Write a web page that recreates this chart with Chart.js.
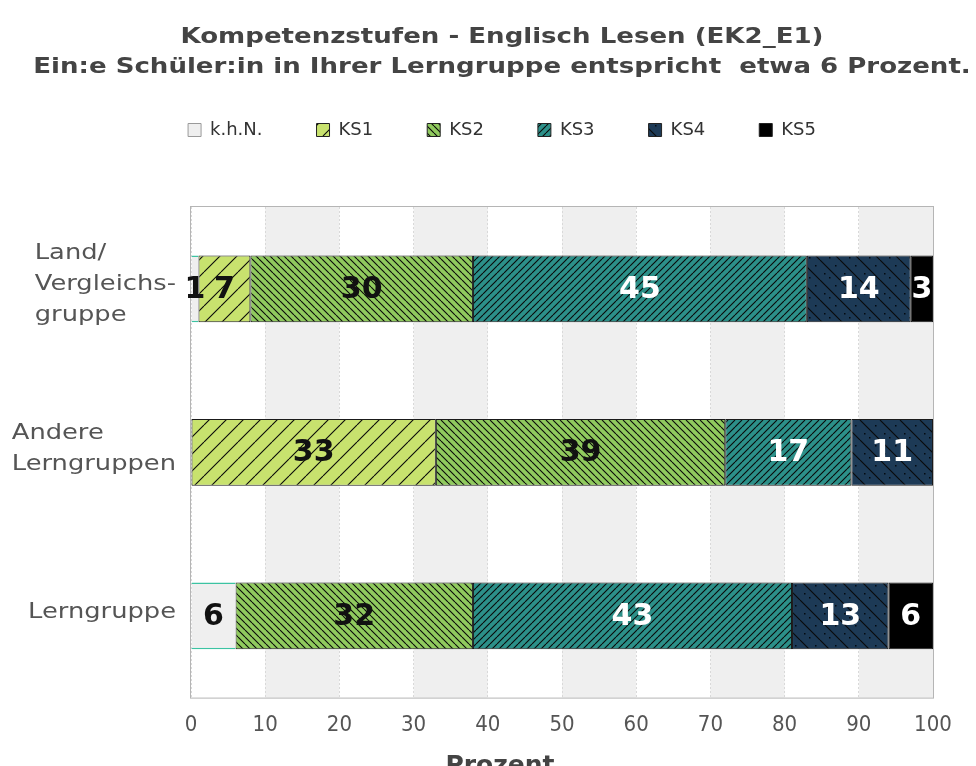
<!DOCTYPE html>
<html>
<head>
<meta charset="utf-8">
<script src="https://cdn.jsdelivr.net/npm/chart.js@4/dist/chart.umd.min.js"></script>
<style>
  html, body { margin: 0; background: #fff; }
  #wrap { width: 976px; height: 766px; }
</style>
</head>
<body>
<div id="wrap"><canvas id="chart"></canvas></div>
<script>
const titel = ['Kompetenzstufen - Englisch Lesen (EK2_E1)', 'Ein:e Schüler:in in Ihrer Lerngruppe entspricht  etwa 6 Prozent.'];
const gruppen = [['Land/', 'Vergleichs-', 'gruppe'], ['Andere', 'Lerngruppen'], ['Lerngruppe']];
const stufen = ['k.h.N.', 'KS1', 'KS2', 'KS3', 'KS4', 'KS5'];
const khn = [1, 0, 6];
const ks1 = [7, 33, 0];
const ks2 = [30, 39, 32];
const ks3 = [45, 17, 43];
const ks4 = [14, 11, 13];
const ks5 = [3, 0, 6];
const xTitel = 'Prozent';
const baender = [10, 30, 50, 70, 90];

// Schraffur als Canvas-Muster
function muster(bg, step, dir, dots) {
  const c = document.createElement('canvas');
  c.width = c.height = step;
  const x = c.getContext('2d');
  x.fillStyle = bg;
  x.fillRect(0, 0, step, step);
  x.strokeStyle = '#0a0a0a';
  x.lineWidth = 1.1;
  x.beginPath();
  for (const o of [-step, 0, step]) {
    if (dir === '/') { x.moveTo(o, step); x.lineTo(o + step, 0); }
    else { x.moveTo(o, 0); x.lineTo(o + step, step); }
  }
  x.stroke();
  if (dots) {
    x.fillStyle = '#050a10';
    dots.forEach(d => x.fillRect(d[0], d[1], 1.5, 1.5));
  }
  return x.createPattern(c, 'repeat');
}

const farben = [
  '#efefef',
  muster('#c8e26e', 17, '/'),
  muster('#90ca5e', 7, '\\'),
  muster('#2c9089', 7, '/'),
  muster('#1d3a56', 20, '\\', [[4, 13], [15, 5], [9, 17]]),
  '#000000'
];
const werte = [khn, ks1, ks2, ks3, ks4, ks5];
const textFarben = ['#111', '#111', '#111', '#fff', '#fff', '#fff'];

const datasets = stufen.map((s, i) => ({
  label: s,
  data: werte[i],
  backgroundColor: farben[i],
  borderColor: i === 0 ? '#3cc3a2' : '#1a1a1a',
  borderWidth: i === 0 ? { top: 1.5, bottom: 1.5, left: 0, right: 0 } : 1,
  borderSkipped: false,
  categoryPercentage: 0.8,
  barPercentage: 0.51
}));

const pad = { top: 67, left: 71, right: 43, bottom: 14 };

const hintergrund = {
  id: 'hintergrund',
  beforeDraw(chart) {
    const { ctx, chartArea: a } = chart;
    const xs = chart.scales.x;
    ctx.save();
    ctx.fillStyle = '#efefef';
    baender.forEach(v => {
      const l = xs.getPixelForValue(v), r = xs.getPixelForValue(v + 10);
      ctx.fillRect(l, a.top, r - l, a.bottom - a.top);
    });
    ctx.restore();
  },
  beforeDatasetsDraw(chart) {
    const { ctx, chartArea: a } = chart;
    ctx.save();
    ctx.strokeStyle = '#b5b5b5';
    ctx.lineWidth = 1;
    ctx.strokeRect(a.left - 0.5, a.top - 0.5, a.right - a.left + 1, a.bottom - a.top + 1);
    ctx.restore();
  }
};

const werteText = {
  id: 'werteText',
  afterDatasetsDraw(chart) {
    const { ctx } = chart;
    ctx.save();
    ctx.font = 'bold 30px "DejaVu Sans"';
    ctx.textAlign = 'center';
    ctx.textBaseline = 'middle';
    chart.data.datasets.forEach((ds, i) => {
      chart.getDatasetMeta(i).data.forEach((el, j) => {
        const v = ds.data[j];
        if (!v) return;
        const p = el.getProps(['x', 'y', 'base'], true);
        ctx.fillStyle = textFarben[i];
        ctx.fillText(String(v), (p.x + p.base) / 2, p.y + 1);
      });
    });
    ctx.restore();
  }
};

const texte = {
  id: 'texte',
  beforeInit(chart) {
    const fit = chart.legend.fit;
    chart.legend.fit = function () { fit.call(this); this.height += 58; };
  },
  afterDraw(chart) {
    const { ctx, chartArea: a } = chart;
    const cx = (pad.left + chart.width - pad.right) / 2;
    ctx.save();
    ctx.textAlign = 'center';
    ctx.textBaseline = 'alphabetic';
    ctx.fillStyle = '#444';
    ctx.font = 'bold 21px "DejaVu Sans"';
    titel.forEach((t, i) => {
      ctx.save();
      ctx.translate(cx, 43 + i * 30);
      ctx.scale(1.24, 1);
      ctx.fillText(t, 0, 0);
      ctx.restore();
    });
    ctx.font = 'bold 25px "DejaVu Sans"';
    ctx.fillText(xTitel, cx - 2, 773);

    // Kategorien: Block rechtsbuendig, Zeilen linksbuendig
    const ys = chart.scales.y;
    const sx = 1.17, lh = 31, rechts = a.left - 15;
    ctx.font = '22px "DejaVu Sans"';
    ctx.fillStyle = '#555';
    ctx.textAlign = 'left';
    ctx.textBaseline = 'middle';
    gruppen.forEach((zeilen, j) => {
      const w = Math.max(...zeilen.map(z => ctx.measureText(z).width)) * sx;
      const y0 = ys.getPixelForValue(j) - 4 - (zeilen.length - 1) * lh / 2;
      zeilen.forEach((z, k) => {
        ctx.save();
        ctx.translate(rechts - w, y0 + k * lh);
        ctx.scale(sx, 1);
        ctx.fillText(z, 0, 0);
        ctx.restore();
      });
    });
    ctx.restore();
  }
};

new Chart(document.getElementById('chart'), {
  type: 'bar',
  data: { labels: gruppen.map(g => g.join(' ')), datasets },
  options: {
    indexAxis: 'y',
    responsive: true,
    maintainAspectRatio: false,
    animation: false,
    layout: { padding: pad },
    plugins: {
      title: { display: false },
      tooltip: { enabled: false },
      legend: {
        position: 'top',
        labels: {
          boxWidth: 13,
          boxHeight: 13,
          padding: 54,
          color: '#333',
          font: { family: '"DejaVu Sans"', size: 18 },
          generateLabels(chart) {
            const items = Chart.defaults.plugins.legend.labels.generateLabels(chart);
            items.forEach((it, i) => { it.lineWidth = 1; it.strokeStyle = i === 0 ? '#9a9a9a' : '#222'; });
            return items;
          }
        }
      }
    },
    scales: {
      x: {
        stacked: true,
        min: 0,
        max: 100,
        ticks: {
          stepSize: 10,
          padding: 14,
          color: '#555',
          font: { family: '"DejaVu Sans Condensed", "DejaVu Sans"', size: 22 }
        },
        grid: { color: '#d9d9d9', drawTicks: false },
        border: { display: false, dash: [2, 2] }
      },
      y: {
        stacked: true,
        ticks: { display: false },
        grid: { display: false },
        border: { display: false },
        afterFit(s) { s.width = 120; }
      }
    }
  },
  plugins: [hintergrund, werteText, texte]
});
</script>
</body>
</html>
